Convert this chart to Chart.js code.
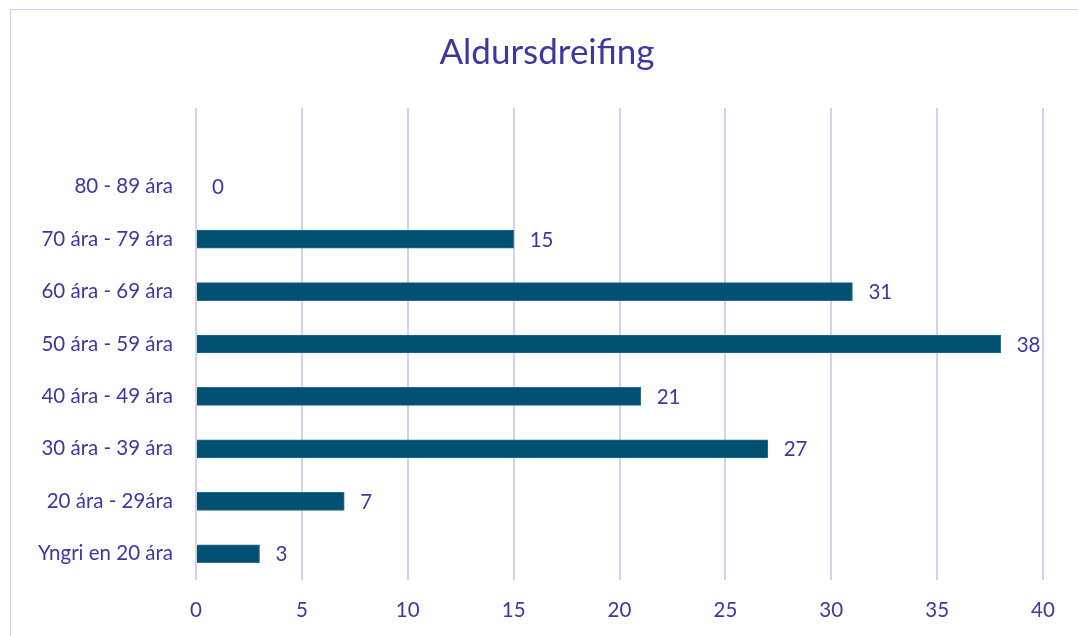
<!DOCTYPE html>
<html>
<head>
<meta charset="utf-8">
<script src="https://cdn.jsdelivr.net/npm/chart.js@4.4.0/dist/chart.umd.min.js"></script>
<style>
html,body{margin:0;padding:0;background:#fff;}
#frame{position:absolute;left:10px;top:9px;width:1100px;height:700px;border:1.5px solid #d2cff0;box-sizing:border-box;}
#wrap{position:absolute;left:0;top:0;width:1078px;height:636px;}
</style>
</head>
<body>
<div id="frame"></div>
<div id="wrap"><canvas id="c" width="1078" height="636"></canvas></div>
<script>
const categories = ["", "80 - 89 ára", "70 ára - 79 ára", "60 ára - 69 ára", "50 ára - 59 ára", "40 ára - 49 ára", "30 ára - 39 ára", "20 ára - 29ára", "Yngri en 20 ára"];
const values = [null, 0, 15, 31, 38, 21, 27, 7, 3];
const xTicks = [0, 5, 10, 15, 20, 25, 30, 35, 40];
const title = "Aldursdreifing";

const TXT = '#3d38a0';
const FONT = 'Lato, "Open Sans", sans-serif';

const valueLabels = {
  id: 'valueLabels',
  afterDatasetsDraw(chart) {
    const ctx = chart.ctx;
    const meta = chart.getDatasetMeta(0);
    ctx.save();
    ctx.fillStyle = TXT;
    ctx.font = '20.5px ' + FONT;
    ctx.textBaseline = 'middle';
    ctx.textAlign = 'left';
    meta.data.forEach((bar, i) => {
      const v = values[i];
      if (v === null || v === undefined) return;
      ctx.fillText(String(v), bar.x + 16, bar.y + 1);
    });
    ctx.restore();
  }
};

const titlePlugin = {
  id: 'titlePlugin',
  afterDraw(chart) {
    const ctx = chart.ctx;
    ctx.save();
    ctx.fillStyle = TXT;
    ctx.font = '35px ' + FONT;
    ctx.textAlign = 'center';
    ctx.textBaseline = 'middle';
    ctx.fillText(title, 547, 53);
    ctx.restore();
  }
};

new Chart(document.getElementById('c'), {
  type: 'bar',
  data: {
    labels: categories,
    datasets: [{
      data: values,
      backgroundColor: '#005072',
      borderColor: '#2a6a88',
      borderWidth: 1,
      barThickness: 18
    }]
  },
  options: {
    indexAxis: 'y',
    responsive: false,
    animation: false,
    layout: { padding: { left: 0, right: 35, top: 108, bottom: 0 } },
    plugins: {
      legend: { display: false },
      tooltip: { enabled: false },
      title: { display: false }
    },
    scales: {
      x: {
        min: 0, max: 40,
        afterBuildTicks(scale) { scale.ticks = xTicks.map(v => ({ value: v })); },
        afterFit(scale) { scale.height = 56; },
        grid: { color: '#d3d0f0', lineWidth: 2, drawTicks: false },
        border: { display: false },
        ticks: { color: TXT, font: { family: FONT, size: 20.5 }, padding: 18 }
      },
      y: {
        afterFit(scale) { scale.width = 196; },
        grid: { display: false, drawTicks: false },
        border: { display: false },
        ticks: { color: TXT, font: { family: FONT, size: 20.5 }, padding: 23 }
      }
    }
  },
  plugins: [valueLabels, titlePlugin]
});
</script>
</body>
</html>
